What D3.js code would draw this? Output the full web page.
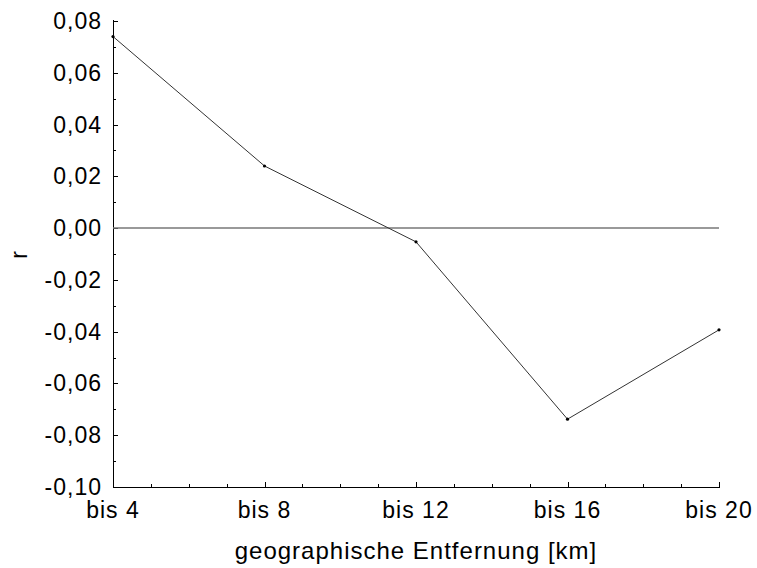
<!DOCTYPE html>
<html>
<head>
<meta charset="utf-8">
<script src="https://cdn.jsdelivr.net/npm/d3@7"></script>
<style>
  body { margin: 0; background: #fff; }
  text { font-family: "Liberation Sans", Arial, sans-serif; fill: #000; }
</style>
</head>
<body>
<svg id="chart"></svg>
<script>
//Chart data
var categories = ["bis 4", "bis 8", "bis 12", "bis 16", "bis 20"];
var rValues = [0.074, 0.024, -0.0053, -0.0738, -0.0393];
var yTicks = [-0.10, -0.08, -0.06, -0.04, -0.02, 0.00, 0.02, 0.04, 0.06, 0.08];
var xTitle = "geographische Entfernung [km]";
var yTitle = "r";

//Set screen size
var screen = {width: 757, height: 568};
var margin = {left: 113, right: 38, top: 21, bottom: 81};

var svg = d3.select("#chart")
    .attr("width", screen.width)
    .attr("height", screen.height);

var plotW = screen.width - margin.left - margin.right;
var plotH = screen.height - margin.top - margin.bottom;

//Scales
var xScale = d3.scaleLinear()
    .domain([0, categories.length - 1])
    .range([margin.left, margin.left + plotW]);

var yScale = d3.scaleLinear()
    .domain([-0.10, 0.08])
    .range([margin.top + plotH, margin.top]);

var fmt = function(v){
    return d3.format(".2f")(v).replace(".", ",").replace("−", "-");
}

//Minor ticks (every 0.01 / quarter category)
var yMinor = d3.range(-0.10, 0.0801, 0.01).map(function(v){ return Math.round(v * 100) / 100; });
var xMinor = d3.range(0, categories.length - 1 + 0.001, 0.25);

//Y axis
var yAxis = svg.append("g")
    .attr("transform", "translate(" + margin.left + ",0)");
yAxis.selectAll("line.minor")
    .data(yMinor)
    .enter()
    .append("line")
    .attr("x1", 0).attr("x2", 3)
    .attr("y1", function(d){ return Math.round(yScale(d)) + 0.5; })
    .attr("y2", function(d){ return Math.round(yScale(d)) + 0.5; })
    .attr("stroke", "#000");
yAxis.selectAll("line.major")
    .data(yTicks)
    .enter()
    .append("line")
    .attr("x1", 0).attr("x2", 5)
    .attr("y1", function(d){ return Math.round(yScale(d)) + 0.5; })
    .attr("y2", function(d){ return Math.round(yScale(d)) + 0.5; })
    .attr("stroke", "#000");
yAxis.selectAll("text")
    .data(yTicks)
    .enter()
    .append("text")
    .attr("x", -11)
    .attr("y", function(d){ return yScale(d); })
    .attr("dy", "0.35em")
    .attr("text-anchor", "end")
    .style("font-size", "23px")
    .style("letter-spacing", "1px")
    .text(fmt);
yAxis.append("line")
    .attr("x1", 0.5).attr("x2", 0.5)
    .attr("y1", margin.top - 1).attr("y2", margin.top + plotH + 0.5)
    .attr("stroke", "#000");

//X axis
var xAxis = svg.append("g")
    .attr("transform", "translate(0," + (margin.top + plotH) + ")");
xAxis.selectAll("line.minor")
    .data(xMinor)
    .enter()
    .append("line")
    .attr("x1", function(d){ return Math.round(xScale(d)) + 0.5; })
    .attr("x2", function(d){ return Math.round(xScale(d)) + 0.5; })
    .attr("y1", 0)
    .attr("y2", function(d){ return d % 1 === 0 ? -5 : -3; })
    .attr("stroke", "#000");
xAxis.append("line")
    .attr("x1", margin.left).attr("x2", margin.left + plotW + 1)
    .attr("y1", 0.5).attr("y2", 0.5)
    .attr("stroke", "#000");
xAxis.selectAll("text")
    .data(categories)
    .enter()
    .append("text")
    .attr("x", function(d, i){ return xScale(i); })
    .attr("y", 31)
    .attr("text-anchor", "middle")
    .style("font-size", "23px")
    .style("letter-spacing", "1px")
    .text(function(d){ return d; });

//Axis titles
svg.append("text")
    .attr("x", margin.left + plotW / 2)
    .attr("y", 559)
    .attr("text-anchor", "middle")
    .style("font-size", "24px")
    .style("letter-spacing", "1px")
    .text(xTitle);
svg.append("text")
    .attr("transform", "translate(27," + (margin.top + plotH / 2 + 1) + ") rotate(-90)")
    .attr("text-anchor", "middle")
    .style("font-size", "23px")
    .text(yTitle);

//Zero line
svg.append("line")
    .attr("x1", margin.left).attr("x2", margin.left + plotW)
    .attr("y1", yScale(0)).attr("y2", yScale(0))
    .attr("stroke", "#777")
    .attr("stroke-width", 1.5);

//Data line
var line = d3.line()
    .x(function(d, i){ return xScale(i); })
    .y(function(d){ return yScale(d); });
svg.append("path")
    .datum(rValues)
    .attr("d", line)
    .attr("fill", "none")
    .attr("stroke", "#333")
    .attr("stroke-width", 1);

//Points
svg.selectAll("circle")
    .data(rValues)
    .enter()
    .append("circle")
    .attr("cx", function(d, i){ return xScale(i); })
    .attr("cy", function(d){ return yScale(d); })
    .attr("r", 1.6)
    .attr("fill", "#000");
</script>
</body>
</html>
